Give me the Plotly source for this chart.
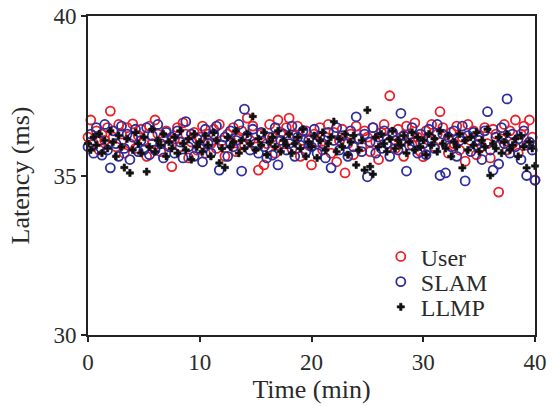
import plotly.graph_objects as go

# Time axis (min), one sample every 0.25 min
time_min = [i * 0.25 for i in range(161)]

user_ms = [
    36.2, 36.74, 36.0, 36.4, 35.8, 36.3, 36.1, 36.5, 37.02, 36.2,
    35.9, 36.6, 36.3, 35.7, 36.5, 36.0, 36.62, 35.85, 36.25, 36.45,
    36.1, 35.6, 36.55, 36.0, 36.74, 36.3, 35.75, 36.2, 36.4, 35.95,
    35.28, 36.15, 36.5, 35.9, 36.65, 36.3, 35.55, 36.05, 36.35, 35.8,
    36.2, 36.55, 35.7, 36.3, 36.0, 36.45, 35.85, 36.6, 36.1, 35.6,
    36.3, 36.0, 36.5, 35.75, 36.2, 36.4, 35.95, 36.8, 36.1, 36.55,
    35.9, 35.17, 36.3, 35.33, 36.0, 36.6, 36.2, 35.7, 36.74, 36.35,
    36.0, 36.5, 36.8, 35.85, 36.25, 36.55, 35.6, 36.1, 36.4, 35.95,
    35.33, 36.3, 36.05, 36.5, 35.8, 36.2, 36.6, 35.7, 36.35, 35.43,
    36.1, 36.45, 35.08, 36.0, 36.3, 35.65, 36.55, 36.15, 35.9, 36.4,
    36.2, 35.75, 36.5, 36.05, 35.5, 36.35, 36.6, 36.0, 37.5, 36.25,
    35.85, 36.45, 36.1, 35.6, 36.55, 36.3, 35.95, 36.65, 36.2, 35.75,
    35.59, 36.4, 36.1, 36.6, 35.9, 36.3, 37.0, 36.5, 36.0, 35.7,
    36.35, 36.0, 36.55, 35.8, 36.2, 35.45, 36.6, 36.1, 36.4, 35.65,
    36.25, 35.9, 36.5, 36.0, 35.55, 36.45, 36.3, 34.48, 36.15, 36.6,
    35.8, 36.4, 36.0, 36.74, 35.7, 36.3, 36.55, 35.95, 36.74, 36.2,
    34.86,
]

slam_ms = [
    35.9, 36.3, 35.7, 36.5, 36.1, 35.64, 36.6, 35.8, 35.24, 36.4,
    36.0, 35.6, 36.55, 35.85, 36.3, 35.5, 36.2, 36.45, 35.75, 36.1,
    35.8, 36.5, 35.65, 36.25, 35.8, 36.6, 36.0, 35.55, 36.35, 35.9,
    36.2, 35.7, 36.4, 36.05, 35.55, 36.69, 35.9, 36.3, 35.6, 36.15,
    35.85, 35.43, 36.45, 36.0, 35.7, 36.3, 36.55, 35.17, 35.95, 36.2,
    35.6, 36.4, 35.9, 36.1, 36.6, 35.14, 37.08, 36.25, 35.8, 36.45,
    36.0, 35.7, 36.35, 35.9, 35.55, 36.2, 35.64, 36.5, 35.33, 36.1,
    36.3, 35.8, 36.0, 36.55, 35.6, 36.2, 35.95, 36.4, 35.75, 36.1,
    35.9, 36.45, 35.7, 36.2, 36.0, 35.55, 36.35, 35.24, 36.1, 36.5,
    35.8, 36.25, 36.0, 35.6, 36.4, 35.9, 36.84, 36.15, 35.75, 36.3,
    34.96, 36.05, 36.5, 35.7, 36.2, 35.85, 36.4, 36.0, 35.6, 36.35,
    36.1, 35.8, 36.95, 36.25, 35.14, 35.95, 36.5, 36.05, 35.7, 36.3,
    36.0, 35.65, 36.45, 36.15, 35.85, 36.6, 35.0, 36.3, 35.08, 36.2,
    35.9, 36.4, 35.6, 36.1, 36.55, 34.83, 36.25, 35.75, 36.35, 35.95,
    36.1, 35.5, 36.4, 37.0, 35.8, 35.17, 36.2, 35.36, 36.5, 36.0,
    37.4, 35.7, 36.3, 35.9, 36.15, 35.5, 36.4, 35.0, 36.05, 35.8,
    34.85,
]

llmp_ms = [
    36.0, 35.8, 36.2, 35.95, 36.3, 35.7, 36.1, 35.85, 36.4, 36.05,
    35.6, 36.25, 35.9, 35.25, 36.15, 35.08, 35.8, 36.35, 36.0, 35.7,
    36.2, 35.12, 35.9, 36.45, 35.75, 36.1, 35.95, 36.3, 35.6, 36.05,
    35.85, 36.2, 35.7, 36.4, 36.0, 35.8, 36.15, 35.5, 36.3, 35.9,
    36.05, 35.75, 36.25, 35.95, 35.6, 36.35, 36.1, 35.39, 35.85, 35.25,
    36.2, 35.9, 36.05, 36.4, 35.7, 36.1, 35.85, 36.3, 36.0, 36.85,
    35.8, 36.15, 35.95, 36.35, 35.65, 36.05, 36.2, 35.9, 36.4, 35.75,
    36.1, 35.95, 36.3, 35.7, 36.0, 36.2, 35.85, 36.45, 35.6, 36.05,
    35.9, 36.25, 35.55, 36.1, 36.35, 35.8, 36.0, 36.2, 36.69, 35.75,
    36.15, 35.9, 36.3, 35.65, 36.05, 36.25, 35.33, 35.8, 36.1, 35.17,
    37.05, 35.28, 35.04, 36.2, 35.9, 36.3, 36.0, 35.75, 36.15, 36.4,
    35.85, 36.1, 35.95, 36.25, 35.7, 36.05, 36.35, 35.8, 36.2, 35.9,
    36.1, 35.65, 36.3, 35.95, 36.15, 35.75, 36.4, 36.0, 35.85, 36.25,
    35.6, 36.05, 35.9, 36.3, 35.24, 36.1, 35.8, 36.2, 35.95, 36.35,
    35.75, 36.1, 35.9, 36.45, 35.0, 36.0, 35.85, 36.2, 35.7, 36.05,
    36.3, 35.8, 35.95, 36.15, 35.6, 36.25, 35.9, 35.24, 36.05, 35.85,
    35.3,
]

x_ticks = [0, 10, 20, 30, 40]
y_ticks = [30, 35, 40]

FONT = "Liberation Serif"
TXT = "#2a2a2a"

fig = go.Figure()
fig.add_trace(go.Scatter(
    x=time_min, y=user_ms, mode="markers", name="User", legend="legend",
    marker=dict(symbol="circle-open", size=9, color="#e8202a",
                line=dict(width=1.8, color="#e8202a")),
    cliponaxis=False,
))
fig.add_trace(go.Scatter(
    x=time_min, y=slam_ms, mode="markers", name="SLAM", legend="legend2",
    marker=dict(symbol="circle-open", size=9, color="#2e2e9e",
                line=dict(width=1.8, color="#2e2e9e")),
    cliponaxis=False,
))
fig.add_trace(go.Scatter(
    x=time_min, y=llmp_ms, mode="markers", name="LLMP", legend="legend3",
    marker=dict(symbol="cross", size=6, color="#111111",
                line=dict(width=0.6, color="#111111")),
    cliponaxis=False,
))

axis_common = dict(
    showline=True, mirror=True, linecolor="#222222", linewidth=2,
    ticks="outside", ticklen=5, tickwidth=1.5, tickcolor="#222222",
    showgrid=False, zeroline=False, automargin=False,
    ticklabeloverflow="allow",
    tickfont=dict(family=FONT, size=23, color=TXT),
)

def leg(yc):
    return dict(x=0.655, y=yc, xanchor="left", yanchor="middle",
                bgcolor="rgba(0,0,0,0)", borderwidth=0,
                font=dict(family=FONT, size=24, color=TXT),
                itemwidth=30, tracegroupgap=0)

fig.update_layout(
    width=552, height=406,
    margin=dict(l=88, r=17, t=16, b=71),
    paper_bgcolor="white", plot_bgcolor="white",
    showlegend=True,
    legend=leg(0.245),
    legend2=leg(0.166),
    legend3=leg(0.087),
    xaxis=dict(range=[0, 40], tickvals=x_ticks,
               title=dict(text="Time (min)", font=dict(family=FONT, size=26, color=TXT), standoff=6),
               **axis_common),
    yaxis=dict(range=[30, 40], tickvals=y_ticks,
               title=dict(text="Latency (ms)", font=dict(family=FONT, size=26, color=TXT), standoff=16),
               **axis_common),
)

# remove the default page margin so the figure fills the window exactly
fig.write_html("out.html",
               config={"displayModeBar": False},
               post_script="document.body.style.margin='0';document.body.style.overflow='hidden';")
